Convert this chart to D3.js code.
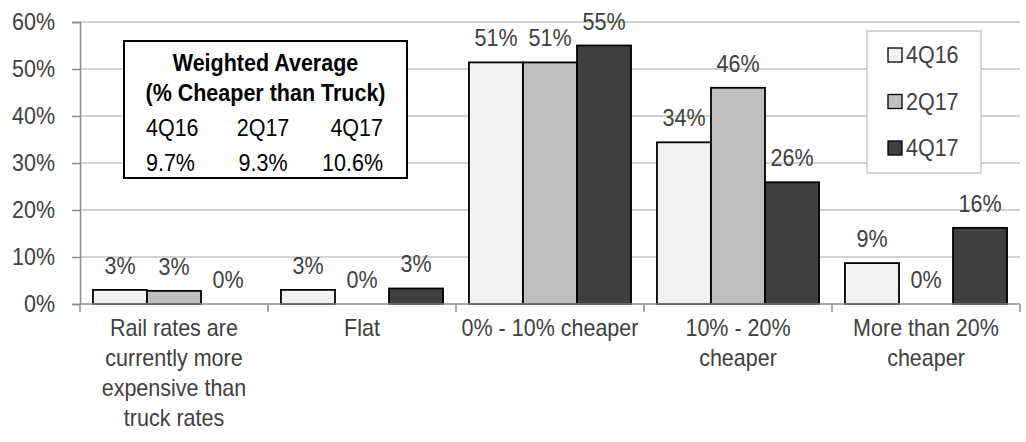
<!DOCTYPE html>
<html>
<head>
<meta charset="utf-8">
<script src="https://cdn.jsdelivr.net/npm/d3@7"></script>
<style>
  html, body { margin: 0; padding: 0; background: #fff; }
  svg { display: block; font-family: "Liberation Sans", Arial, sans-serif; }
</style>
</head>
<body>
<svg id="chart" width="1026" height="442"></svg>
<script>
const categories = ["Rail rates are currently more expensive than truck rates", "Flat", "0% - 10% cheaper", "10% - 20% cheaper", "More than 20% cheaper"];
const categoryLines = [["Rail rates are", "currently more", "expensive than", "truck rates"], ["Flat"], ["0% - 10% cheaper"], ["10% - 20%", "cheaper"], ["More than 20%", "cheaper"]];
const seriesNames = ["4Q16", "2Q17", "4Q17"];
const values4Q16 = [3.0, 3.0, 51.4, 34.4, 8.7];
const values2Q17 = [2.8, 0, 51.4, 46.0, 0];
const values4Q17 = [0, 3.3, 55.0, 25.9, 16.2];
const seriesColors = ["#f2f2f2", "#bfbfbf", "#404040"];
const yTicks = [0, 10, 20, 30, 40, 50, 60];
const boxTitle = ["Weighted Average", "(% Cheaper than Truck)"];
const boxPeriods = ["4Q16", "2Q17", "4Q17"];
const boxValues = ["9.7%", "9.3%", "10.6%"];

const seriesValues = [values4Q16, values2Q17, values4Q17];
const svg = d3.select("#chart");
const FS = 23;
const SX = 0.935;
const textColor = "#404040";

function addText(parent, x, yy, str, anchor, color, bold) {
  return parent.append("text")
    .attr("transform", `translate(${x},${yy}) scale(${SX},1)`)
    .attr("text-anchor", anchor || "middle")
    .attr("fill", color || textColor)
    .style("font-size", FS + "px")
    .style("font-weight", bold ? "bold" : "normal")
    .text(str);
}

const x0 = d3.scaleBand().domain(categories).range([80, 1020]).paddingInner(0).paddingOuter(0);
const x1 = d3.scaleBand().domain(seriesNames).range([0, x0.bandwidth()]).paddingInner(0).paddingOuter(0.24);
const y = d3.scaleLinear().domain([0, 60]).range([304, 22]);

// gridlines
svg.append("g").selectAll("line").data(yTicks.filter(t => t > 0)).join("line")
  .attr("x1", 80).attr("x2", 1020)
  .attr("y1", d => y(d)).attr("y2", d => y(d))
  .attr("stroke", "#c4c4c4").attr("stroke-width", 1.5);

// y axis
const yAxis = svg.append("g").attr("transform", "translate(80,0)")
  .call(d3.axisLeft(y).tickValues(yTicks).tickFormat("").tickSize(8));
yAxis.select(".domain").attr("stroke", "#8c8c8c").attr("stroke-width", 1.5);
yAxis.selectAll(".tick line").attr("stroke", "#8c8c8c").attr("stroke-width", 1.5);
yTicks.forEach(t => addText(svg, 55, y(t) + 8, t + "%", "end"));

// bars
const groups = svg.append("g").selectAll("g").data(categories).join("g")
  .attr("transform", d => `translate(${x0(d)},0)`);
groups.each(function(cat, ci) {
  const g = d3.select(this);
  seriesNames.forEach((s, si) => {
    const v = seriesValues[si][ci];
    if (v > 0) {
      g.append("rect")
        .attr("x", x1(s)).attr("width", x1.bandwidth())
        .attr("y", y(v)).attr("height", y(0) - y(v))
        .attr("fill", seriesColors[si]).attr("stroke", "#000").attr("stroke-width", 1.8);
    }
    addText(g, x1(s) + x1.bandwidth() / 2, y(v) - 16, Math.round(v) + "%", "middle");
  });
});

// x axis
svg.append("line").attr("x1", 80).attr("x2", 1020).attr("y1", y(0)).attr("y2", y(0))
  .attr("stroke", "#8c8c8c").attr("stroke-width", 1.5);
const boundaries = categories.map(c => x0(c)).concat([x0.range()[1]]);
svg.append("g").selectAll("line").data(boundaries).join("line")
  .attr("x1", d => d).attr("x2", d => d).attr("y1", y(0)).attr("y2", y(0) + 8)
  .attr("stroke", "#8c8c8c").attr("stroke-width", 1.5);

// category labels
categories.forEach((c, i) => {
  categoryLines[i].forEach((line, li) => {
    addText(svg, x0(c) + x0.bandwidth() / 2, 336 + li * 30, line, "middle");
  });
});

// weighted average box
svg.append("rect").attr("x", 124).attr("y", 41).attr("width", 283).attr("height", 137)
  .attr("fill", "#fff").attr("stroke", "#000").attr("stroke-width", 2);
boxTitle.forEach((t, i) => addText(svg, 265.5, 71 + i * 30, t, "middle", "#000", true));
const colX = [146, 263, 383];
const anchors = ["start", "middle", "end"];
boxPeriods.forEach((p, i) => {
  addText(svg, colX[i], 136, p, anchors[i], "#000");
  addText(svg, colX[i], 171, boxValues[i], anchors[i], "#000");
});

// legend
svg.append("rect").attr("x", 867).attr("y", 31).attr("width", 114).attr("height", 142)
  .attr("fill", "#fff").attr("stroke", "#c8c8c8").attr("stroke-width", 1.5);
seriesNames.forEach((s, i) => {
  const cy = 55 + i * 46.5;
  svg.append("rect").attr("x", 888).attr("y", cy - 7).attr("width", 14).attr("height", 14)
    .attr("fill", seriesColors[i]).attr("stroke", "#000").attr("stroke-width", 1.3);
  addText(svg, 906, cy + 8, s, "start");
});
</script>
</body>
</html>
